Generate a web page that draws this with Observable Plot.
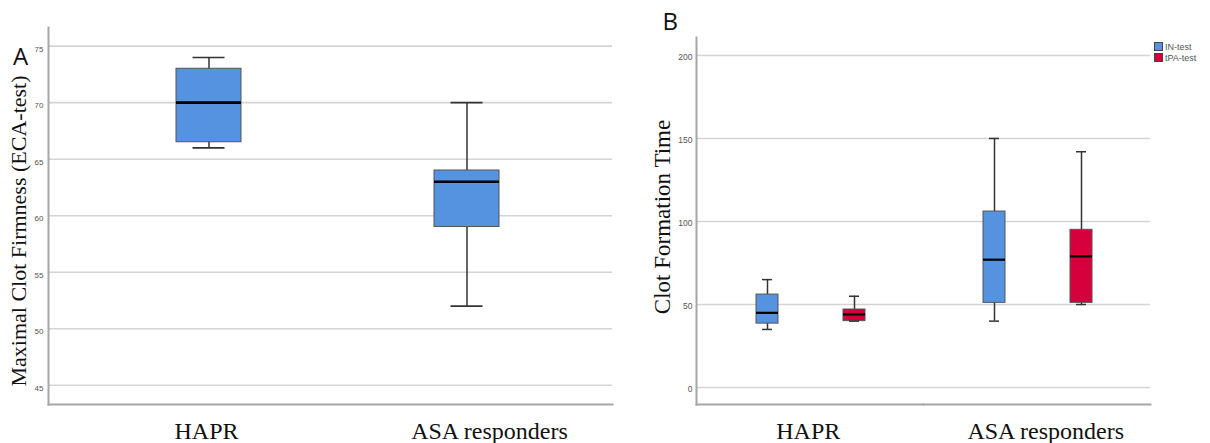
<!DOCTYPE html>
<html>
<head>
<meta charset="utf-8">
<script src="https://cdn.jsdelivr.net/npm/d3@7"></script>
<script src="https://cdn.jsdelivr.net/npm/@observablehq/plot@0.6"></script>
<style>
  html, body { margin: 0; padding: 0; background: #fff; }
  #wrap { position: relative; width: 1210px; height: 443px; overflow: hidden; background: #fff; }
  #panelA { position: absolute; left: 0; top: 0; }
  #panelB { position: absolute; left: 620px; top: 0; }
  #legend { position: absolute; left: 1154px; top: 41px; font-family: "Liberation Sans", Arial, sans-serif; font-size: 9px; color: #555; }
  #legend .row { display: flex; align-items: center; height: 11px; }
  #legend .sw { width: 7px; height: 7px; border: 1px solid #444; margin-right: 2px; }
</style>
</head>
<body>
<div id="wrap">
  <div id="panelA"></div>
  <div id="panelB"></div>
  <div id="legend"></div>
</div>
<script>
// ---------- data ----------
const categories = ["HAPR", "ASA responders"];
const tests = ["IN-test", "tPA-test"];

// Panel A: Maximal Clot Firmness (ECA-test)
const aMin = [66, 52];
const aQ1  = [66.5, 59];
const aMed = [70, 63];
const aQ3  = [73, 64];
const aMax = [74, 70];
const aTicks = [45, 50, 55, 60, 65, 70, 75];

// Panel B: Clot Formation Time
const bCat  = ["HAPR", "HAPR", "ASA responders", "ASA responders"];
const bTest = ["IN-test", "tPA-test", "IN-test", "tPA-test"];
const bMin = [35, 40, 40, 50];
const bQ1  = [38.5, 40, 51, 51];
const bMed = [45, 44, 77, 79];
const bQ3  = [56, 47, 106, 95];
const bMax = [65, 55, 150, 142];
const bTicks = [0, 50, 100, 150, 200];

// ---------- styles ----------
const blue = "#5592e0", red = "#d5003c";
const gridColor = "#d4d4d4", axisColor = "#a6a6a6";
const serif = "'Liberation Serif', 'Times New Roman', serif";
const sans = "'Liberation Sans', Arial, sans-serif";

const dataA = categories.map((c, i) => ({cat: c, min: aMin[i], q1: aQ1[i], med: aMed[i], q3: aQ3[i], max: aMax[i]}));
const dataB = bCat.map((c, i) => ({cat: c, test: bTest[i], min: bMin[i], q1: bQ1[i], med: bMed[i], q3: bQ3[i], max: bMax[i]}));

const plotA = Plot.plot({
  width: 620, height: 443,
  marginLeft: 48, marginRight: 8, marginTop: 27, marginBottom: 39,
  x: {domain: categories, paddingInner: 0.75, paddingOuter: 0.464, align: 0.529},
  y: {domain: [43.3, 76.65]},
  style: {background: "transparent", overflow: "visible"},
  marks: [
    Plot.gridY(aTicks, {stroke: gridColor, strokeOpacity: 1, strokeWidth: 1.6}),
    Plot.axisY(aTicks, {tickSize: 0, tickPadding: 5, fontSize: 8, fontFamily: sans, fill: "#555", dy: 3, label: null}),
    Plot.axisX([categories[0]], {tickSize: 0, tickPadding: 17, fontSize: 24, fontFamily: serif, fill: "#111", dx: -2.5, label: null}),
    Plot.axisX([categories[1]], {tickSize: 0, tickPadding: 17, fontSize: 24, fontFamily: serif, fill: "#111", dx: 22.5, label: null}),
    Plot.frame({anchor: "left", stroke: axisColor, strokeWidth: 2}),
    Plot.frame({anchor: "bottom", stroke: axisColor, strokeWidth: 2}),
    Plot.ruleX(dataA, {x: "cat", y1: "min", y2: "max", stroke: "#333", strokeWidth: 1.5}),
    Plot.barY(dataA, {x: "cat", y1: "q1", y2: "q3", fill: blue, stroke: "#555", strokeWidth: 1}),
    Plot.tickY(dataA, {x: "cat", y: "min", stroke: "#333", strokeWidth: 1.6, insetLeft: 16.5, insetRight: 16.5}),
    Plot.tickY(dataA, {x: "cat", y: "max", stroke: "#333", strokeWidth: 1.6, insetLeft: 16.5, insetRight: 16.5}),
    Plot.tickY(dataA, {x: "cat", y: "med", stroke: "#000", strokeWidth: 2.6}),
    Plot.text(["Maximal Clot Firmness (ECA-test)"], {frameAnchor: "left", textAnchor: "middle", dx: -30, dy: 15, rotate: -90, fontSize: 22, fontFamily: serif, fill: "#111"}),
    Plot.text(["A"], {frameAnchor: "top-left", dx: -35.5, dy: 37, textAnchor: "start", lineAnchor: "bottom", fontSize: 24, fontFamily: "'Open Sans', sans-serif", fill: "#111"})
  ]
});
document.getElementById("panelA").appendChild(plotA);

const plotB = Plot.plot({
  width: 590, height: 443,
  marginLeft: 75, marginRight: 60, marginTop: 37, marginBottom: 39,
  fx: {domain: categories, padding: 0, axis: null},
  x: {domain: tests, paddingInner: 0.749, paddingOuter: 0.674, align: 0.506, axis: null},
  y: {domain: [-10.2, 210.8]},
  color: {domain: tests, range: [blue, red]},
  style: {background: "transparent", overflow: "visible"},
  marks: [
    Plot.gridY(bTicks, {stroke: gridColor, strokeOpacity: 1, strokeWidth: 1.6}),
    Plot.axisY(bTicks, {tickSize: 0, tickPadding: 4, fontSize: 8.5, fontFamily: sans, fill: "#555", dy: 1.5, label: null}),
    Plot.text([categories[0]], {fx: d => d, frameAnchor: "bottom", lineAnchor: "top", dx: -1.75, dy: 17, fontSize: 24, fontFamily: serif, fill: "#111"}),
    Plot.text([categories[1]], {fx: d => d, frameAnchor: "bottom", lineAnchor: "top", dx: 8.75, dy: 17, fontSize: 24, fontFamily: serif, fill: "#111"}),
    Plot.frame({anchor: "left", stroke: axisColor, strokeWidth: 2, facetAnchor: "left"}),
    Plot.frame({anchor: "bottom", stroke: axisColor, strokeWidth: 2}),
    Plot.ruleX(dataB, {fx: "cat", x: "test", y1: "min", y2: "max", stroke: "#333", strokeWidth: 1.5}),
    Plot.barY(dataB, {fx: "cat", x: "test", y1: "q1", y2: "q3", fill: "test", stroke: "#555", strokeWidth: 1}),
    Plot.tickY(dataB, {fx: "cat", x: "test", y: "min", stroke: "#333", strokeWidth: 1.5, insetLeft: 6, insetRight: 6}),
    Plot.tickY(dataB, {fx: "cat", x: "test", y: "max", stroke: "#333", strokeWidth: 1.5, insetLeft: 6, insetRight: 6}),
    Plot.tickY(dataB, {fx: "cat", x: "test", y: "med", stroke: "#000", strokeWidth: 2.2}),
    Plot.text(["Clot Formation Time"], {frameAnchor: "left", textAnchor: "middle", dx: -34, dy: -4, rotate: -90, fontSize: 23, fontFamily: serif, fill: "#111", facetAnchor: "left"}),
    Plot.text(["B"], {frameAnchor: "top-left", dx: -34, dy: -7.7, textAnchor: "start", lineAnchor: "bottom", fontSize: 24, fontFamily: "'Open Sans', sans-serif", fill: "#111", facetAnchor: "left"})
  ]
});
document.getElementById("panelB").appendChild(plotB);

// legend built from the color scale
const colorScale = plotB.scale("color");
const legend = document.getElementById("legend");
tests.forEach(t => {
  const row = document.createElement("div");
  row.className = "row";
  const sw = document.createElement("span");
  sw.className = "sw";
  sw.style.background = colorScale.apply(t);
  const lab = document.createElement("span");
  lab.textContent = t;
  row.appendChild(sw);
  row.appendChild(lab);
  legend.appendChild(row);
});
</script>
</body>
</html>
